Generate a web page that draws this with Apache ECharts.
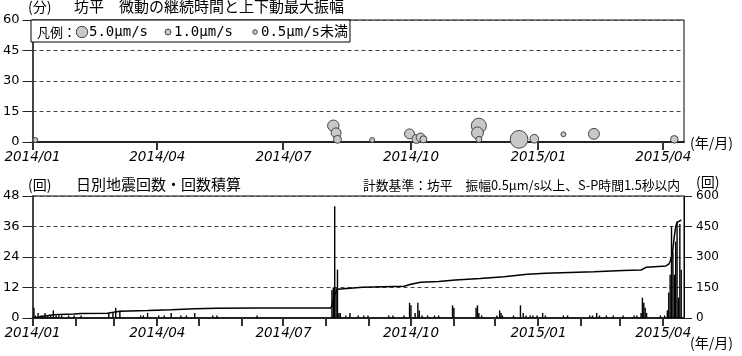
<!DOCTYPE html>
<html><head><meta charset="utf-8">
<script src="https://cdn.jsdelivr.net/npm/echarts@6/dist/echarts.min.js"></script>
<style>html,body{margin:0;padding:0;background:#fff}#c{width:742px;height:356px}</style>
</head><body><div id="c"></div>
<script>
// ---- Tremor (top panel) ----
const tremorDates = ['2014-01-03','2014-08-06','2014-08-08','2014-08-09','2014-09-03','2014-09-30','2014-10-05','2014-10-08','2014-10-10','2014-11-19','2014-11-18','2014-11-19','2014-12-18','2014-12-29','2015-01-19','2015-02-10','2015-04-09'];
const tremorMinutes = [1.0, 8.0, 4.5, 1.3, 1.0, 4.0, 1.5, 2.2, 1.3, 8.0, 4.5, 1.3, 1.3, 1.6, 3.8, 4.0, 1.3];
const tremorAmplitude = [0.6, 5.0, 3.5, 2.0, 0.6, 3.5, 2.7, 2.7, 1.5, 10, 5.5, 1.0, 15, 2.5, 0.6, 4.5, 1.8];

// ---- Daily earthquake counts (bottom panel) ----
const quakeDates = ['2014-01-02','2014-01-03','2014-01-05','2014-01-07','2014-01-08','2014-01-10','2014-01-12','2014-01-14','2014-01-16','2014-01-18','2014-01-20','2014-01-22','2014-01-27','2014-01-31','2014-02-05',
'2014-02-25','2014-02-28','2014-03-02','2014-03-05','2014-03-20','2014-03-22','2014-03-25','2014-04-02','2014-04-06','2014-04-11','2014-04-18','2014-04-22','2014-04-28','2014-05-11','2014-05-14','2014-06-12',
'2014-08-05','2014-08-06','2014-08-07','2014-08-08','2014-08-09','2014-08-10','2014-08-11','2014-08-15','2014-08-18','2014-08-24','2014-08-28','2014-08-31',
'2014-09-15','2014-09-18','2014-09-26','2014-09-30','2014-10-01','2014-10-04','2014-10-06','2014-10-07','2014-10-09','2014-10-13','2014-10-18','2014-10-21','2014-10-31','2014-11-01',
'2014-11-17','2014-11-18','2014-11-19','2014-11-21','2014-12-02','2014-12-04','2014-12-05','2014-12-06','2014-12-14','2014-12-19','2014-12-21','2014-12-23','2014-12-26','2014-12-28','2014-12-31',
'2015-01-04','2015-01-06','2015-01-19','2015-01-22','2015-02-07','2015-02-09','2015-02-12','2015-02-14','2015-02-19','2015-02-24','2015-03-03','2015-03-11','2015-03-13','2015-03-16','2015-03-17','2015-03-18','2015-03-19','2015-03-20','2015-03-30','2015-04-02','2015-04-04',
'2015-04-05','2015-04-06','2015-04-07','2015-04-08','2015-04-09','2015-04-10','2015-04-11','2015-04-12','2015-04-13','2015-04-14'];
const quakeCounts = [4,1,2,1,1,2,1,1,3,1,1,1,1,1,1,
2,2,4,3,1,1,2,1,1,2,1,1,2,1,1,1,
11,12,44,12,19,2,2,1,2,1,1,1,
1,1,1,6,5,2,6,3,1,1,1,1,5,4,
4,5,2,1,1,3,2,1,1,5,2,1,1,1,1,
2,1,1,1,1,1,2,1,1,1,1,1,1,2,8,6,4,2,1,1,3,
10,17,36,26,17,30,38,8,37,19];

// ---- Cumulative count ----
const cumDates = ['2014-01-01','2014-01-02','2014-01-10','2014-01-16','2014-01-31','2014-02-05','2014-02-24','2014-03-05','2014-03-25','2014-04-11','2014-04-28','2014-05-14','2014-06-12','2014-08-04','2014-08-05','2014-08-07','2014-08-09','2014-08-27','2014-09-26','2014-10-01','2014-10-08','2014-10-21','2014-11-02','2014-11-20','2014-12-07','2014-12-24','2015-01-06','2015-02-10','2015-03-03','2015-03-16','2015-03-20','2015-04-03','2015-04-05','2015-04-06','2015-04-07','2015-04-08','2015-04-09','2015-04-10','2015-04-11','2015-04-13','2015-04-14'];
const cumValues = [0,4,10,16,20,22,23,33,37,41,46,48,49,49,60,115,141,151,156,166,176,180,187,194,203,215,220,227,233,236,250,256,265,278,300,340,400,450,470,478,482];

// ---- Axes ----
const quarterLabels = ['2014-01-01','2014-04-01','2014-07-01','2014-10-01','2015-01-01','2015-04-01'];
const monthTicks = ['2014-01-01','2014-02-01','2014-03-01','2014-04-01','2014-05-01','2014-06-01','2014-07-01','2014-08-01','2014-09-01','2014-10-01','2014-11-01','2014-12-01','2015-01-01','2015-02-01','2015-03-01','2015-04-01'];
const xMin = '2014-01-01', xMax = '2015-04-16';
const minuteAxis = {min: 0, max: 60, interval: 15};
const countAxis = {min: 0, max: 48, interval: 12};
const cumAxis = {min: 0, max: 600, interval: 150};

function ts(s){const p=s.split('-').map(Number);return Date.UTC(p[0],p[1]-1,p[2]);}
function fmt(v){const d=new Date(v);const m=d.getUTCMonth()+1;return d.getUTCFullYear()+'/'+(m<10?'0'+m:m);}
function ampSize(a){return 6*Math.pow(a,0.4);}

const tremorData = tremorDates.map((d,i)=>[ts(d), tremorMinutes[i], tremorAmplitude[i]]);
const quakeData = quakeDates.map((d,i)=>[ts(d), quakeCounts[i]]);
const cumData = cumDates.map((d,i)=>[ts(d), cumValues[i]]);

const numFont = 'DejaVu Sans';
const jpFont = '"Noto Sans CJK JP"';
const dashed = {show:true, lineStyle:{type:[4,3], color:'#444', width:1}};

function xAxisCfg(grid){
  return {type:'value', gridIndex:grid, min:ts(xMin), max:ts(xMax), scale:true,
    axisLine:{show:true, onZero:false, lineStyle:{color:'#222', width:2}},
    axisTick:{show:false},
    axisLabel:{show:true, customValues:quarterLabels.map(ts), formatter:fmt, fontStyle:'italic', fontFamily:numFont, fontSize:13.5, color:'#000', margin:8, hideOverlap:false},
    splitLine:{show:false}};
}
function yAxisCfg(grid, a){
  return Object.assign({type:'value', gridIndex:grid,
    axisLine:{show:true, lineStyle:{color:'#444', width:2}},
    axisTick:{show:true, length:10, lineStyle:{color:'#222'}},
    axisLabel:{fontFamily:numFont, fontSize:13, color:'#000', margin:13},
    splitLine:dashed}, a);
}
// month tick marks drawn below the time axis through the axis scale
function tickSeries(xi, yi, ticks){
  return {type:'custom', xAxisIndex:xi, yAxisIndex:yi, clip:false, silent:true, z:10,
    data:ticks.map(t=>[ts(t), 0]),
    renderItem:function(params, api){
      const p = api.coord([api.value(0), 0]);
      return {type:'rect', shape:{x:Math.round(p[0])-1, y:Math.round(p[1]), width:2, height:8}, style:{fill:'#333'}};
    }};
}

const chart = echarts.init(document.getElementById('c'), null, {renderer:'canvas'});
const legendY = 32;
chart.setOption({
  animation:false,
  backgroundColor:'#fff',
  grid:[
    {left:31, right:58, top:20, height:122, show:true, borderColor:'#000', borderWidth:1, backgroundColor:'transparent'},
    {left:31, right:58, top:196, height:122, show:true, borderColor:'#000', borderWidth:1, backgroundColor:'transparent'}
  ],
  xAxis:[xAxisCfg(0), xAxisCfg(1)],
  yAxis:[
    yAxisCfg(0, minuteAxis),
    yAxisCfg(1, countAxis),
    Object.assign({type:'value', gridIndex:1, position:'right',
      axisLine:{show:true, lineStyle:{color:'#000', width:1}},
      axisTick:{show:true, length:8, lineStyle:{color:'#222'}},
      axisLabel:{fontFamily:numFont, fontSize:12, color:'#000', margin:12},
      splitLine:{show:false}}, cumAxis)
  ],
  series:[
    tickSeries(0, 0, quarterLabels),
    tickSeries(1, 1, monthTicks),
    {type:'scatter', xAxisIndex:0, yAxisIndex:0, data:tremorData, symbol:'circle',
      symbolSize:v=>ampSize(v[2]),
      itemStyle:{color:'#c8c8c8', borderColor:'#444', borderWidth:1, opacity:1}, z:5},
    {type:'bar', xAxisIndex:1, yAxisIndex:1, data:quakeData, barWidth:1.4,
      itemStyle:{color:'#000'}, z:3},
    {type:'line', xAxisIndex:1, yAxisIndex:2, data:cumData, showSymbol:false, symbol:'none',
      lineStyle:{color:'#000', width:1.5}, z:4}
  ],
  graphic:[
    {type:'text', left:28, top:0, style:{text:'(分)', font:'14px '+jpFont, fill:'#000'}},
    {type:'text', left:74, top:-1, style:{text:'坊平　微動の継続時間と上下動最大振幅', font:'15px '+jpFont, fill:'#000'}},
    {type:'rect', shape:{x:31, y:20, width:319, height:22}, style:{fill:'#fff', stroke:'#000', lineWidth:1}, z:50},
    {type:'text', x:37, y:legendY, style:{text:'凡例：', font:'13px '+jpFont, fill:'#000', verticalAlign:'middle'}, z:51},
    {type:'circle', shape:{cx:82, cy:legendY, r:ampSize(5)/2}, style:{fill:'#c8c8c8', stroke:'#444', lineWidth:1}, z:51},
    {type:'text', x:89, y:legendY, style:{text:'5.0μm/s', font:'14px "DejaVu Sans Mono"', fill:'#000', verticalAlign:'middle'}, z:51},
    {type:'circle', shape:{cx:168, cy:legendY, r:ampSize(1)/2}, style:{fill:'#c8c8c8', stroke:'#444', lineWidth:1}, z:51},
    {type:'text', x:174, y:legendY, style:{text:'1.0μm/s', font:'14px "DejaVu Sans Mono"', fill:'#000', verticalAlign:'middle'}, z:51},
    {type:'circle', shape:{cx:255, cy:legendY, r:ampSize(0.5)/2}, style:{fill:'#c8c8c8', stroke:'#444', lineWidth:1}, z:51},
    {type:'text', x:261, y:legendY, style:{text:'0.5μm/s未満', font:'14px "DejaVu Sans Mono", '+jpFont, fill:'#000', verticalAlign:'middle'}, z:51},
    {type:'text', x:690, y:143, style:{text:'(年/月)', font:'14px '+jpFont, fill:'#000', verticalAlign:'middle'}},
    {type:'text', left:28, top:178, style:{text:'(回)', font:'14px '+jpFont, fill:'#000'}},
    {type:'text', left:76, top:177, style:{text:'日別地震回数・回数積算', font:'15px '+jpFont, fill:'#000'}},
    {type:'text', left:363, top:179, style:{text:'計数基準：坊平　振幅0.5μm/s以上、S-P時間1.5秒以内', font:'12.8px '+jpFont, fill:'#000'}},
    {type:'text', left:696, top:175, style:{text:'(回)', font:'14px '+jpFont, fill:'#000'}},
    {type:'text', x:690, y:343, style:{text:'(年/月)', font:'14px '+jpFont, fill:'#000', verticalAlign:'middle'}}
  ]
});
</script></body></html>
